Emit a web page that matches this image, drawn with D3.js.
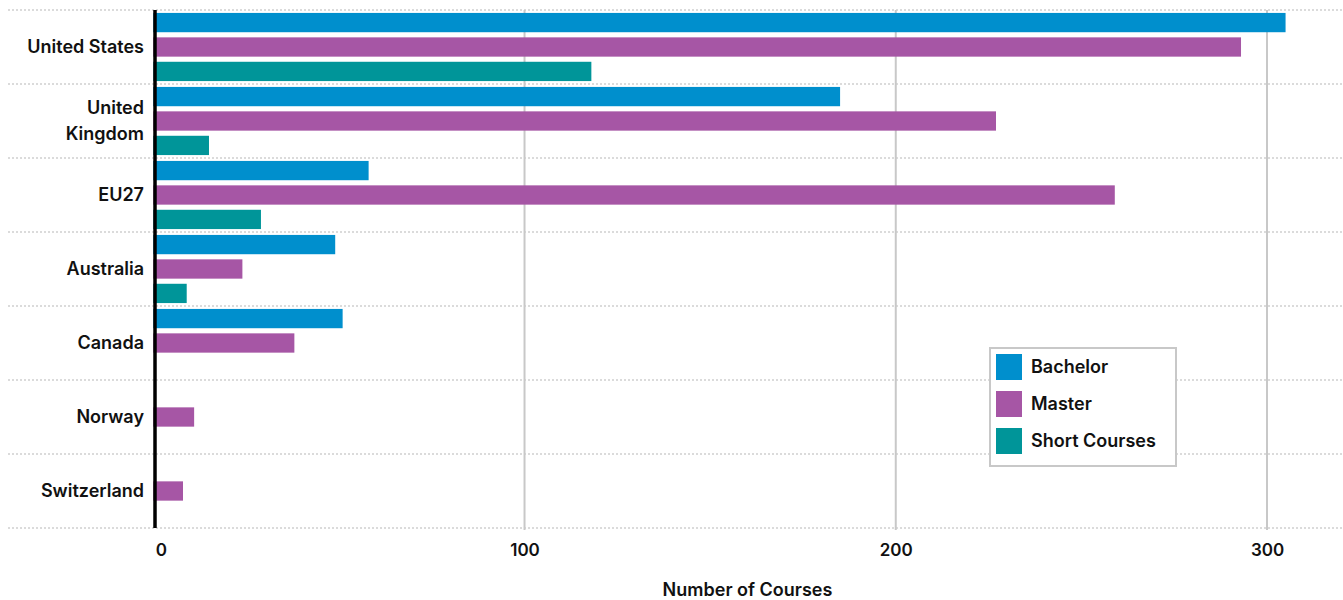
<!DOCTYPE html>
<html>
<head>
<meta charset="utf-8">
<script src="https://cdn.jsdelivr.net/npm/d3@7"></script>
<style>
  body { margin: 0; background: #fff; }
  svg text { font-family: Inter, "Noto Sans", sans-serif; fill: #111; }
</style>
</head>
<body>
<div id="chart"></div>
<script>
// Courses by country and level

const countries = ["United States", "United Kingdom", "EU27", "Australia", "Canada", "Norway", "Switzerland"];
const levels = ["Bachelor", "Master", "Short Courses"];
const bachelor = [305, 185, 58, 49, 51, 0, 0];
const master = [293, 227, 259, 24, 38, 11, 8];
const shortCourses = [118, 15, 29, 9, 0, 0, 0];
const xTicks = [0, 100, 200, 300];
const colors = ["#008fcd", "#a656a5", "#009599"];

let width = 1343,
    height = 600,
    margin = ({ top: 10, right: 0, bottom: 72, left: 153 });

const svg = d3.select("#chart")
    .append("svg")
    .attr("width", width)
    .attr("height", height)
    .attr("viewBox", [0, 0, width, height]);

const series = [bachelor, master, shortCourses];
const data = [];
countries.forEach((c, i) => {
    levels.forEach((l, j) => {
        data.push({ country: c, level: l, value: series[j][i] });
    });
});

let x = d3.scaleLinear()
    .domain([0, 300])
    .range([153.3, 1267]);

let y = d3.scaleBand()
    .domain(countries)
    .range([margin.top, 528])
    .padding(0);

let ySub = d3.scaleBand()
    .domain(levels)
    .range([0, y.bandwidth()])
    .paddingInner(0.21)
    .paddingOuter(0.12);

const color = d3.scaleOrdinal(levels, colors);

// dotted separators between countries
const seps = countries.map(c => y(c)).concat([y.range()[1]]);
svg.append("g")
    .selectAll("line")
    .data(seps)
    .join("line")
    .attr("x1", 8)
    .attr("x2", width)
    .attr("y1", d => d)
    .attr("y2", d => d)
    .attr("stroke", "#cfcfcf")
    .attr("stroke-width", 1.5)
    .attr("stroke-dasharray", "2,2");

// vertical grid
svg.append("g")
    .selectAll("line")
    .data(xTicks.slice(1))
    .join("line")
    .attr("x1", d => x(d))
    .attr("x2", d => x(d))
    .attr("y1", margin.top)
    .attr("y2", 530)
    .attr("stroke", "#c8c8c8")
    .attr("stroke-width", 2);

// bars
svg.append("g")
    .selectAll("rect")
    .data(data.filter(d => d.value > 0))
    .join("rect")
    .attr("x", x(0))
    .attr("y", d => y(d.country) + ySub(d.level))
    .attr("width", d => x(d.value) - x(0))
    .attr("height", ySub.bandwidth())
    .attr("fill", d => color(d.level));

// zero axis line
svg.append("line")
    .attr("x1", 155)
    .attr("x2", 155)
    .attr("y1", margin.top)
    .attr("y2", 528)
    .attr("stroke", "#000")
    .attr("stroke-width", 3.5);

// x axis
const xAxis = svg.append("g")
    .attr("transform", `translate(0,${528})`)
    .call(d3.axisBottom(x).tickValues(xTicks).tickSize(0).tickPadding(16));
xAxis.select(".domain").remove();
xAxis.selectAll("text")
    .style("font-size", "17px")
    .style("font-weight", 600)
    .style("font-family", "Inter, sans-serif")
    .attr("fill", "#111");
xAxis.selectAll("text").filter(d => d === 0).attr("text-anchor", "start").attr("dx", 2);

// country labels
const labelLines = { "United Kingdom": ["United", "Kingdom"] };
svg.append("g")
    .selectAll("text")
    .data(countries)
    .join("text")
    .attr("x", 144)
    .attr("y", d => y(d) + y.bandwidth() / 2)
    .attr("text-anchor", "end")
    .style("font-size", "18px")
    .style("font-weight", 600)
    .each(function(d) {
        const lines = labelLines[d] || [d];
        const t = d3.select(this);
        lines.forEach((ln, i) => {
            t.append("tspan")
                .attr("x", 144)
                .attr("dy", i === 0 ? `${0.35 - (lines.length - 1) * 0.72}em` : "1.44em")
                .text(ln);
        });
    });

// axis title
svg.append("text")
    .attr("x", 747.5)
    .attr("y", 596)
    .attr("text-anchor", "middle")
    .style("font-size", "18px")
    .style("font-weight", 600)
    .text("Number of Courses");

// legend
const legend = svg.append("g").attr("transform", "translate(990,348)");
legend.append("rect")
    .attr("width", 186)
    .attr("height", 118)
    .attr("fill", "#fff")
    .attr("stroke", "#c8c8c8")
    .attr("stroke-width", 2);
const items = legend.selectAll("g")
    .data(levels)
    .join("g")
    .attr("transform", (d, i) => `translate(6,${6 + i * 37})`);
items.append("rect")
    .attr("width", 26)
    .attr("height", 26)
    .attr("fill", d => color(d));
items.append("text")
    .attr("x", 35)
    .attr("y", 13)
    .attr("dy", "0.35em")
    .style("font-size", "18px")
    .style("font-weight", 600)
    .text(d => d);
</script>
</body>
</html>
